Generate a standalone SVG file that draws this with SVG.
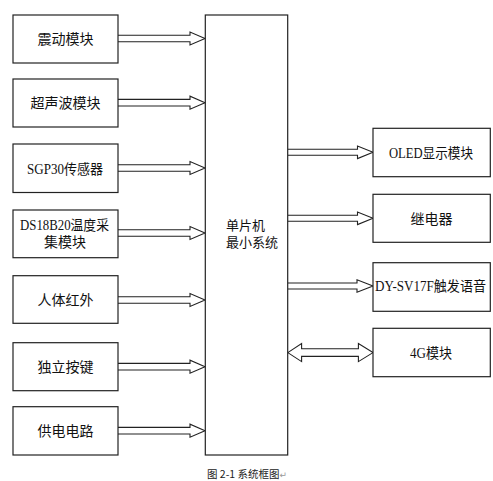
<svg xmlns="http://www.w3.org/2000/svg" width="493" height="481" viewBox="0 0 493 481">
<style>
.box{fill:#fff;stroke:#222;stroke-width:1.2}
.arr{fill:#fff;stroke:#222;stroke-width:1.1;stroke-linejoin:miter}
.cjk{font-family:"Noto Sans CJK SC","Noto Sans",sans-serif;font-size:14px;fill:#111}
.mix{font-family:"Liberation Serif","Noto Sans CJK SC",serif;font-size:14px;fill:#111}
.mid{text-anchor:middle}
.cap{font-family:"Noto Sans CJK SC","Noto Sans",sans-serif;font-size:10.5px;fill:#222}
</style>
<rect width="493" height="481" fill="#fff"/>
<g id="connectors">
<path class="arr" d="M118,35.2H190V32L205,38.5L190,45V41.8H118"/>
<path class="arr" d="M118,99.4H190V96.2L205,102.7L190,109.2V106H118"/>
<path class="arr" d="M118,164.7H190V161.5L205,168L190,174.5V171.3H118"/>
<path class="arr" d="M118,229.7H190V226.5L205,233L190,239.5V236.3H118"/>
<path class="arr" d="M118,296.7H190V293.5L205,300L190,306.5V303.3H118"/>
<path class="arr" d="M118,363.4H190V360.2L205,366.7L190,373.2V370H118"/>
<path class="arr" d="M118,427.4H190V424.2L205,430.7L190,437.2V434H118"/>
<path class="arr" d="M288,149.3H357.5V146L373,152.3L357.5,158.6V155.3H288"/>
<path class="arr" d="M288,215.3H357.5V212L373,218.3L357.5,224.6V221.3H288"/>
<path class="arr" d="M288,283H357V279.7L373,286L357,292.3V289H288"/>
<path class="arr" d="M287.8,352.6L301.6,343.6V348.8H358.4V343.6L373,352.6L358.4,361.6V356.4H301.6V361.6Z"/>
</g>
<g id="mcu">
<rect class="box" x="205.3" y="15" width="82.4" height="440"/>
<text class="mix" style="font-size:13px" x="226" y="230.3">单片机<tspan x="226" dy="16.6">最小系统</tspan></text>
</g>
<g id="vibration">
<rect class="box" x="13" y="15" width="105" height="48"/>
<text class="cjk mid" x="65.5" y="44">震动模块</text>
</g>
<g id="ultrasonic">
<rect class="box" x="13" y="79" width="105" height="48"/>
<text class="cjk mid" x="65.5" y="108">超声波模块</text>
</g>
<g id="sgp30">
<rect class="box" x="13" y="144" width="105" height="48.5"/>
<text class="mix" x="27" y="173.5" textLength="76" lengthAdjust="spacingAndGlyphs">SGP30传感器</text>
</g>
<g id="ds18b20">
<rect class="box" x="13" y="210" width="105" height="47.7"/>
<text class="mix" x="20" y="230"><tspan x="20" textLength="89" lengthAdjust="spacingAndGlyphs">DS18B20温度采</tspan><tspan x="44" dy="16.7">集模块</tspan></text>
</g>
<g id="pir">
<rect class="box" x="13" y="275.7" width="105" height="47.6"/>
<text class="cjk mid" x="65.5" y="305">人体红外</text>
</g>
<g id="keys">
<rect class="box" x="13" y="342.7" width="105" height="48"/>
<text class="cjk mid" x="65.5" y="371.7">独立按键</text>
</g>
<g id="power">
<rect class="box" x="13" y="406.7" width="105" height="48.3"/>
<text class="cjk mid" x="65.5" y="435.5">供电电路</text>
</g>
<g id="oled">
<rect class="box" x="373" y="128.3" width="117.3" height="48.4"/>
<text class="mix" x="389" y="157.5" textLength="84" lengthAdjust="spacingAndGlyphs">OLED显示模块</text>
</g>
<g id="relay">
<rect class="box" x="373" y="194.3" width="117.3" height="48"/>
<text class="cjk mid" x="431.5" y="223.5">继电器</text>
</g>
<g id="voice">
<rect class="box" x="373" y="262.7" width="117.3" height="48.6"/>
<text class="mix" x="375" y="291" textLength="111" lengthAdjust="spacingAndGlyphs">DY-SV17F触发语音</text>
</g>
<g id="g4">
<rect class="box" x="373" y="328.3" width="117.3" height="48.4"/>
<text class="mix" x="410" y="357.8" textLength="42" lengthAdjust="spacingAndGlyphs">4G模块</text>
</g>
<g id="caption">
<text class="cap" x="207" y="478">图 2-1 系统框图<tspan style="fill:#999;font-family:'DejaVu Sans',sans-serif;font-size:9px">↵</tspan></text>
</g>
</svg>
